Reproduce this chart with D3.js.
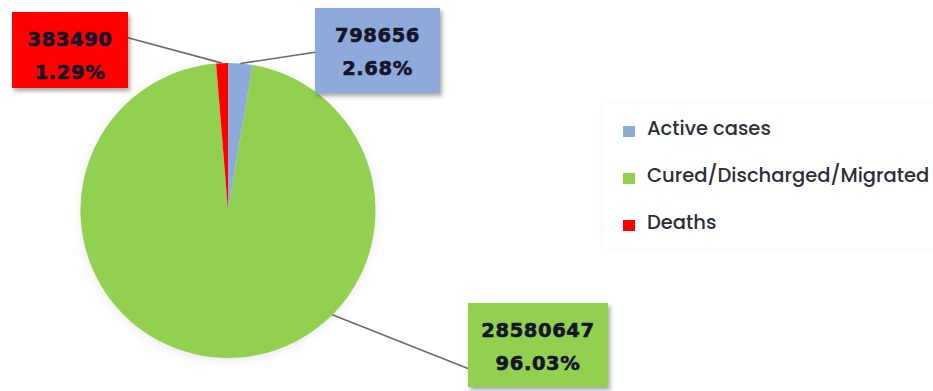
<!DOCTYPE html>
<html>
<head>
<meta charset="utf-8">
<script src="https://cdn.jsdelivr.net/npm/d3@7"></script>
<style>
  html, body { margin: 0; padding: 0; background: #ffffff; }
  svg { display: block; }
</style>
</head>
<body>
<svg id="chart" width="933" height="391"></svg>
<script>
// Case status breakdown
const categories = ["Active cases", "Cured/Discharged/Migrated", "Deaths"];
const counts = [798656, 28580647, 383490];
const colors = ["#8eaadb", "#92d050", "#ff0000"];
// Angle (degrees, clockwise from 12 o'clock) where each leader line meets the pie
const leaderAngles = [null, 135, null];
// Label box placement (left, top, width, height)
const labelBoxes = [
  [315, 8, 125, 85],
  [468, 303, 140, 84],
  [12, 12, 116, 76]
];

const svg = d3.select("#chart");
const cx = 228, cy = 210.5, r = 147.5;

const defs = svg.append("defs");
const shadow = defs.append("filter").attr("id", "boxShadow")
  .attr("x", "-20%").attr("y", "-20%").attr("width", "150%").attr("height", "150%");
shadow.append("feDropShadow").attr("dx", 2).attr("dy", 3)
  .attr("stdDeviation", 2).attr("flood-color", "#000").attr("flood-opacity", 0.35);

const pieHalo = defs.append("filter").attr("id", "pieHalo")
  .attr("x", "-20%").attr("y", "-20%").attr("width", "140%").attr("height", "140%");
pieHalo.append("feDropShadow").attr("dx", 0).attr("dy", 2)
  .attr("stdDeviation", 5).attr("flood-color", "#8080a0").attr("flood-opacity", 0.18);

const legendShadow = defs.append("filter").attr("id", "legendShadow")
  .attr("x", "-10%").attr("y", "-10%").attr("width", "130%").attr("height", "130%");
legendShadow.append("feDropShadow").attr("dx", 0).attr("dy", 0)
  .attr("stdDeviation", 4).attr("flood-color", "#000").attr("flood-opacity", 0.035);

const total = d3.sum(counts);
const data = categories.map((c, i) => ({ category: c, value: counts[i], color: colors[i], idx: i }));

const pie = d3.pie().sort(null).value(d => d.value);
const arcs = pie(data);
const arc = d3.arc().innerRadius(0).outerRadius(r);

const g = svg.append("g").attr("transform", `translate(${cx},${cy})`);
g.append("g").attr("filter", "url(#pieHalo)")
  .selectAll("path").data(arcs).join("path")
  .attr("d", arc)
  .attr("fill", d => d.data.color);

// Leader lines: from each label box to the rim of its slice
function rimPoint(a) {
  const ang = leaderAngles[a.data.idx] != null
    ? leaderAngles[a.data.idx] * Math.PI / 180
    : (a.startAngle + a.endAngle) / 2;
  return [cx + r * Math.sin(ang), cy - r * Math.cos(ang)];
}
function boxPoint(a) {
  const [x, y, w, h] = labelBoxes[a.data.idx];
  if (a.data.idx === 0) return [x, y + h * 0.52];
  if (a.data.idx === 2) return [x + w, y + h * 0.34];
  return [x, y + h * 0.78];
}
svg.append("g").selectAll("line").data(arcs).join("line")
  .attr("x1", d => rimPoint(d)[0]).attr("y1", d => rimPoint(d)[1])
  .attr("x2", d => boxPoint(d)[0]).attr("y2", d => boxPoint(d)[1])
  .attr("stroke", "#6b6b6b").attr("stroke-width", 1.6);

// Value labels
const fmtPct = v => (v / total * 100).toFixed(2) + "%";
const lbl = svg.append("g").selectAll("g").data(arcs).join("g");
lbl.append("rect")
  .attr("x", d => labelBoxes[d.data.idx][0])
  .attr("y", d => labelBoxes[d.data.idx][1])
  .attr("width", d => labelBoxes[d.data.idx][2])
  .attr("height", d => labelBoxes[d.data.idx][3])
  .attr("fill", d => d.data.color)
  .attr("filter", "url(#boxShadow)");
const txt = lbl.append("text")
  .attr("text-anchor", "middle")
  .attr("font-family", "DejaVu Sans, sans-serif")
  .attr("font-weight", "bold")
  .attr("font-size", 19.5)
  .attr("letter-spacing", 0.6)
  .attr("fill", "#14142a")
  .attr("stroke", "#14142a")
  .attr("stroke-width", 0.6);
txt.append("tspan")
  .attr("x", d => labelBoxes[d.data.idx][0] + labelBoxes[d.data.idx][2] / 2)
  .attr("y", d => labelBoxes[d.data.idx][1] + 34)
  .text(d => d.data.value);
txt.append("tspan")
  .attr("x", d => labelBoxes[d.data.idx][0] + labelBoxes[d.data.idx][2] / 2)
  .attr("y", d => labelBoxes[d.data.idx][1] + 67)
  .text(d => fmtPct(d.data.value));

// Legend
const legend = svg.append("g");
legend.append("rect")
  .attr("x", 603).attr("y", 105).attr("width", 340).attr("height", 143)
  .attr("fill", "#ffffff").attr("filter", "url(#legendShadow)");
const rowY = d3.scalePoint().domain(categories).range([134, 228]);
const item = legend.selectAll("g.item").data(data).join("g").attr("class", "item");
item.append("rect")
  .attr("x", 623).attr("y", d => rowY(d.category) - 8)
  .attr("width", 12).attr("height", 11)
  .attr("fill", d => d.color);
item.append("text")
  .attr("x", 647).attr("y", d => rowY(d.category) + 1)
  .attr("font-family", "Poppins, 'Open Sans', sans-serif")
  .attr("font-weight", 500)
  .attr("font-size", 19.5)
  .attr("fill", "#2e2e38")
  .text(d => d.category);
</script>
</body>
</html>
